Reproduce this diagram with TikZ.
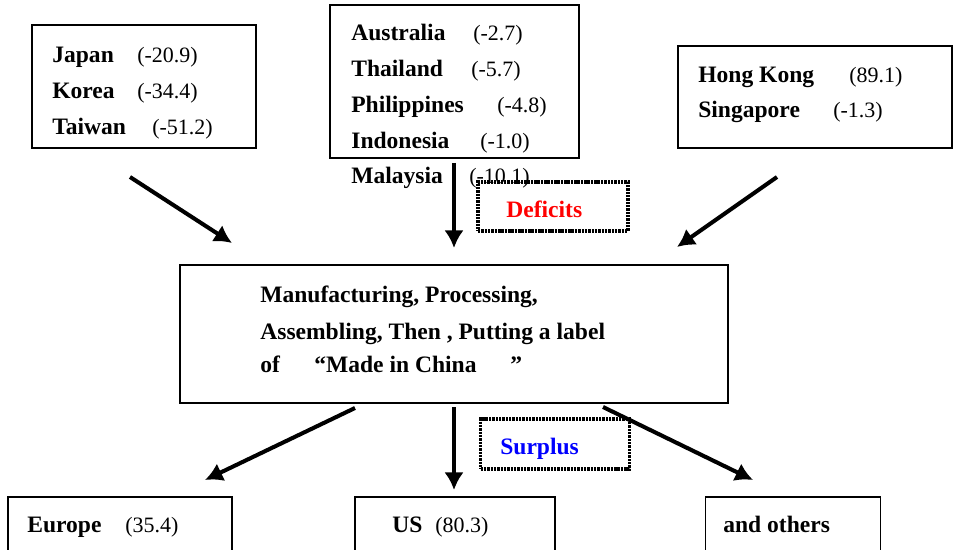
\documentclass[tikz,border=0pt]{standalone}
\usepackage{fontspec}
\setmainfont{Liberation Serif}
\usetikzlibrary{arrows.meta}

\tikzset{
  box/.style={draw,line width=0.8pt,inner sep=0pt},
  dotbox/.style={draw,line width=1.9pt,dash pattern=on 1.4pt off 0.5pt,inner sep=0pt},
  arr/.style={line width=2.3pt,-{Latex[length=10pt,width=11pt]}},
  cname/.style={anchor=base west,inner sep=0pt,font=\fontsize{13.4}{16}\selectfont\bfseries},
  cval/.style={anchor=base west,inner sep=0pt,font=\fontsize{12.5}{15}\selectfont},
}

\begin{document}
\begin{tikzpicture}[x=0.02cm,y=-0.02cm]

\useasboundingbox (0,0) rectangle (953,550);

% boxes
\node[box,minimum width=4.48cm,minimum height=2.46cm] (japan) at (144,86.5) {};
\node[box,minimum width=4.98cm,minimum height=3.06cm] (asean) at (454.5,81.5) {};
\node[box,minimum width=5.48cm,minimum height=2.04cm] (hk) at (815,97) {};
\node[box,fill=white,minimum width=10.96cm,minimum height=2.76cm] (china) at (454,334) {};
\node[box,minimum width=4.48cm,minimum height=1.14cm] (europe) at (120,525.5) {};
\node[box,minimum width=4cm,minimum height=1.14cm] (us) at (455,525.5) {};
\node[box,minimum width=3.5cm,minimum height=1.14cm] (others) at (793,525.5) {};

% countries and balances
\node[cname] (jp) at (52,63) {Japan};
\node[cval] (jpv) at (137,63) {(-20.9)};
\node[cname] (kr) at (52,99) {Korea};
\node[cval] (krv) at (137,99) {(-34.4)};
\node[cname] (tw) at (52,135) {Taiwan};
\node[cval] (twv) at (152,135) {(-51.2)};

\node[cname] (au) at (351,41) {Australia};
\node[cval] (auv) at (473,41) {(-2.7)};
\node[cname] (th) at (351,77) {Thailand};
\node[cval] (thv) at (471,77) {(-5.7)};
\node[cname] (ph) at (351,113) {Philippines};
\node[cval] (phv) at (497,113) {(-4.8)};
\node[cname] (id) at (351,149) {Indonesia};
\node[cval] (idv) at (480,149) {(-1.0)};
\node[cname] (my) at (351,184) {Malaysia};
\node[cval] (myv) at (469,184) {(-10.1)};

\node[cname] (hkg) at (698,83) {Hong Kong};
\node[cval] (hkgv) at (849,83) {(89.1)};
\node[cname] (sg) at (698,118) {Singapore};
\node[cval] (sgv) at (833,118) {(-1.3)};

\node[cname] (l1) at (260,303) {Manufacturing, Processing,};
\node[cname] (l2) at (260,339) {Assembling, Then , Putting a label};
\node[cname] (l3) at (260,373) {of};
\node[cname] (l3b) at (314,373) {``Made in China};
\node[cname] (l3c) at (510,373) {''};

\node[cname] (eu) at (27,532) {Europe};
\node[cval] (euv) at (125,532) {(35.4)};
\node[cname] (usn) at (392,532) {US};
\node[cval] (usv) at (435,532) {(80.3)};
\node[cname] (oth) at (723,532) {and others};

% dotted labels
\node[dotbox,minimum width=3cm,minimum height=0.98cm] (deficits) at (553,206.5) {};
\node[cname,text=red] (deftxt) at (506,218) {Deficits};
\node[dotbox,minimum width=2.98cm,minimum height=1cm] (surplus) at (555,444) {};
\node[cname,text=blue] (surtxt) at (500,454) {Surplus};

% arrows
\coordinate (jp-a) at (130,177);
\coordinate (jp-b) at (232,243);
\coordinate (as-a) at (454,163);
\coordinate (as-b) at (454,248);
\coordinate (hk-a) at (777,177);
\coordinate (hk-b) at (677,247);
\coordinate (eu-a) at (355,408);
\coordinate (eu-b) at (205,480);
\coordinate (us-a) at (454,407);
\coordinate (us-b) at (454,490);
\coordinate (ot-a) at (603,407);
\coordinate (ot-b) at (753,480);

\draw[arr] (jp-a) -- (jp-b);
\draw[arr] (as-a) -- (as-b);
\draw[arr] (hk-a) -- (hk-b);
\draw[arr] (eu-a) -- (eu-b);
\draw[arr] (us-a) -- (us-b);
\draw[arr] (ot-a) -- (ot-b);

\end{tikzpicture}
\end{document}
